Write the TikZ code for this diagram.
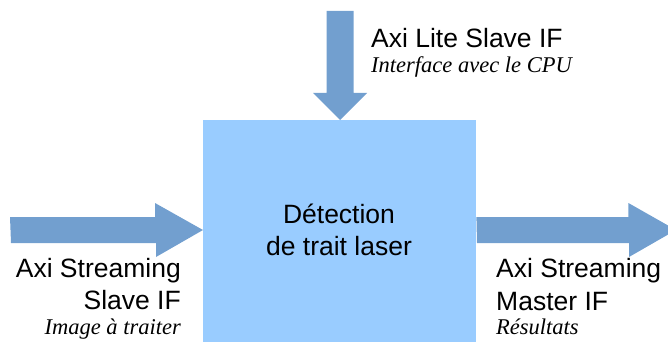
\documentclass[tikz,border=0pt]{standalone}
\usepackage{fontspec}
\setmainfont{Liberation Sans}
\newfontfamily\serifit{Liberation Serif}
\definecolor{boxblue}{HTML}{99CCFF}
\definecolor{arrowblue}{HTML}{729FCF}
\tikzset{
  blockarrow/.style={fill=arrowblue, draw=none},
  lbl/.style={inner sep=0pt, font=\fontsize{26.5}{30}\selectfont},
  sub/.style={inner sep=0pt, font=\fontsize{22.5}{25}\selectfont\serifit\itshape},
}
\begin{document}
\begin{tikzpicture}[x=1pt,y=-1pt]
\useasboundingbox (0,0) rectangle (668,342);
\clip (0,0) rectangle (668,342);
% main block
\node[fill=boxblue, draw=none, inner sep=0pt, minimum width=273pt, minimum height=240pt, anchor=north west] (box) at (203,120) {};
% top arrow
\coordinate (topstart) at (340,11);
\path[blockarrow] (topstart) ++(-13.5,0) -- ++(27,0) -- ++(0,82) -- ++(13.5,0) -- (box.north -| topstart) -- ++(-27,-27) -- ++(13.5,0) -- cycle;
% left arrow
\coordinate (leftstart) at (10,230);
\path[blockarrow] (leftstart) ++(0,-13) -- ++(145,0) -- ++(0,-14) -- (box.west |- leftstart) -- ++(-47,27) -- ++(0,-14) -- ++(-145,0) -- cycle;
% right arrow
\coordinate (rightend) at (676,230);
\path[blockarrow] (box.east |- rightend) ++(0,-13) -- ++(152,0) -- ++(0,-14) -- (rightend) -- ++(-47,27) -- ++(0,-14) -- ++(-152,0) -- cycle;
% texts
\node[lbl, anchor=base] (t1) at (339,223) {Détection};
\node[lbl, anchor=base] (t2) at (339,255) {de trait laser};
\node[lbl, anchor=base west] (lite) at (371,48) {Axi Lite Slave IF};
\node[sub, anchor=base west] (cpu) at (371,73) {Interface avec le CPU};
\node[lbl, anchor=base east] (ss1) at (181,277) {Axi Streaming};
\node[lbl, anchor=base east] (ss2) at (181,309) {Slave IF};
\node[sub, anchor=base east] (img) at (181,334) {Image à traiter};
\node[lbl, anchor=base west] (sm1) at (496,277) {Axi Streaming};
\node[lbl, anchor=base west] (sm2) at (496,310) {Master IF};
\node[sub, anchor=base west] (res) at (496,334) {Résultats};
\end{tikzpicture}
\end{document}
